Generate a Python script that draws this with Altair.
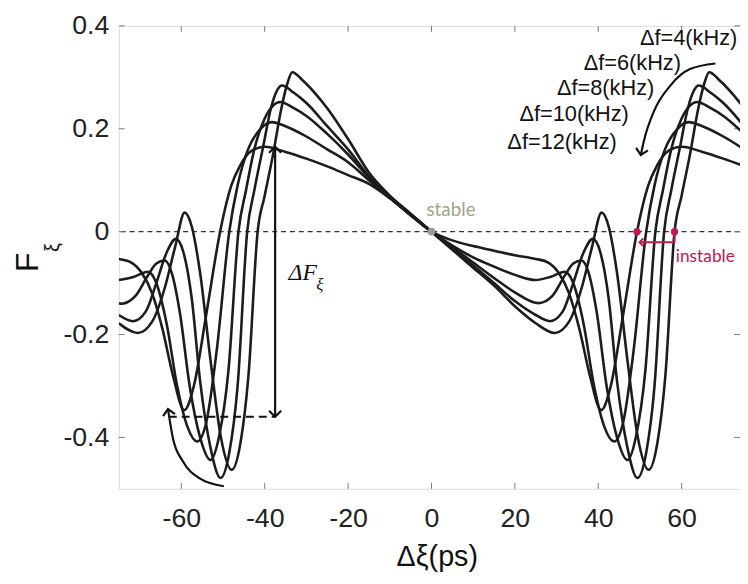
import altair as alt
import pandas as pd

XMIN, XMAX = -75, 74
YMIN, YMAX = -0.5, 0.4
W, H = 628, 468

series_names = ["Δf=4(kHz)", "Δf=6(kHz)", "Δf=8(kHz)", "Δf=10(kHz)", "Δf=12(kHz)"]

curve_4 = [(-75, -0.178), (-70.4, -0.197), (-67, -0.175), (-64, -0.11), (-61.5, -0.03), (-59.2, 0.037),
           (-57.5, 0.01), (-55.5, -0.08), (-53, -0.25), (-50.5, -0.40), (-47.9, -0.463), (-45.8, -0.41),
           (-43.9, -0.28), (-41.7, 0.0), (-40, 0.07), (-38, 0.15), (-36, 0.24), (-34.5, 0.29), (-33.4, 0.31),
           (-31, 0.295), (-28, 0.27), (-25, 0.24), (-20, 0.18), (-15, 0.115), (-10, 0.07), (-5, 0.035), (0, 0.0),
           (5, -0.035), (10, -0.07), (15, -0.105), (20, -0.145), (25, -0.178), (29.6, -0.197), (33, -0.175),
           (36, -0.11), (38.5, -0.03), (40.8, 0.037), (42.5, 0.01), (44.5, -0.08), (47, -0.25), (49.5, -0.40),
           (52.1, -0.463), (54.2, -0.41), (56.1, -0.28), (58.3, 0.0), (60, 0.07), (62, 0.15), (64, 0.24),
           (65.5, 0.29), (66.6, 0.31), (69, 0.295), (72, 0.27), (75, 0.24)]

curve_6 = [(-75, -0.162), (-71.6, -0.174), (-68.5, -0.155), (-66, -0.10), (-63.5, -0.04), (-61.3, -0.014),
           (-59.5, -0.04), (-57.5, -0.13), (-55.5, -0.29), (-53, -0.42), (-50.6, -0.479), (-48.5, -0.43),
           (-46.5, -0.30), (-44.2, 0.0), (-42.5, 0.08), (-40.5, 0.16), (-38.5, 0.24), (-37, 0.275), (-35.9, 0.284),
           (-33, 0.27), (-30, 0.25), (-25, 0.205), (-20, 0.16), (-15, 0.108), (-10, 0.068), (-5, 0.034), (0, 0.0),
           (5, -0.033), (10, -0.066), (15, -0.10), (20, -0.135), (25, -0.162), (28.4, -0.174), (31.5, -0.155),
           (34, -0.10), (36.5, -0.04), (38.7, -0.014), (40.5, -0.04), (42.5, -0.13), (44.5, -0.29), (47, -0.42),
           (49.4, -0.479), (51.5, -0.43), (53.5, -0.30), (55.8, 0.0), (57.5, 0.08), (59.5, 0.16), (61.5, 0.24),
           (63, 0.275), (64.1, 0.284), (67, 0.27), (70, 0.25), (75, 0.205)]

curve_8 = [(-75, -0.139), (-74.3, -0.14), (-71, -0.125), (-68, -0.085), (-66, -0.062), (-64, -0.056),
           (-62.3, -0.08), (-60.3, -0.16), (-58, -0.30), (-55.5, -0.40), (-53, -0.444), (-51, -0.40),
           (-48.7, -0.27), (-46.3, 0.0), (-44.5, 0.08), (-42.5, 0.16), (-40, 0.22), (-38, 0.245), (-36.3, 0.252),
           (-33, 0.24), (-30, 0.225), (-25, 0.19), (-20, 0.15), (-15, 0.105), (-10, 0.067), (-5, 0.033), (0, 0.0),
           (5, -0.03), (10, -0.06), (15, -0.09), (20, -0.118), (25.7, -0.139), (29, -0.125), (32, -0.085),
           (34, -0.062), (36, -0.056), (37.7, -0.08), (39.7, -0.16), (42, -0.30), (44.5, -0.40), (47, -0.444),
           (49, -0.40), (51.3, -0.27), (53.7, 0.0), (55.5, 0.08), (57.5, 0.16), (60, 0.22), (62, 0.245),
           (63.7, 0.252), (67, 0.24), (70, 0.225), (75, 0.19)]

curve_10 = [(-75, -0.094), (-71.5, -0.088), (-68, -0.078), (-66, -0.10), (-63.5, -0.18), (-61, -0.30),
            (-58.5, -0.38), (-56.2, -0.408), (-54, -0.37), (-51.5, -0.23), (-48.5, 0.0), (-46.5, 0.09),
            (-44, 0.16), (-41, 0.20), (-38.3, 0.213), (-35, 0.205), (-30, 0.185), (-25, 0.16), (-20, 0.135),
            (-15, 0.10), (-10, 0.066), (-5, 0.032), (0, 0.0), (5, -0.027), (10, -0.05), (15, -0.068),
            (20, -0.084), (25, -0.094), (28.5, -0.088), (32, -0.078), (34, -0.10), (36.5, -0.18), (39, -0.30),
            (41.5, -0.38), (43.8, -0.408), (46, -0.37), (48.5, -0.23), (51.5, 0.0), (53.5, 0.09), (56, 0.16),
            (59, 0.20), (61.7, 0.213), (65, 0.205), (70, 0.185), (75, 0.16)]

curve_12 = [(-75, -0.053), (-72, -0.06), (-69.5, -0.08), (-67, -0.12), (-64.5, -0.19), (-62, -0.28),
            (-59.3, -0.347), (-57, -0.30), (-54, -0.16), (-50.7, 0.0), (-48, 0.09), (-46, 0.127), (-43, 0.158),
            (-40, 0.165), (-35, 0.155), (-30, 0.142), (-25, 0.127), (-20, 0.11), (-15, 0.093), (-10, 0.065),
            (-5, 0.032), (0, 0.0), (5, -0.017), (10, -0.028), (15, -0.037), (20, -0.046), (25, -0.053),
            (28, -0.06), (30.5, -0.08), (33, -0.12), (35.5, -0.19), (38, -0.28), (40.7, -0.347), (43, -0.30),
            (46, -0.16), (49.3, 0.0), (52, 0.09), (54, 0.127), (57, 0.158), (60, 0.165), (65, 0.155),
            (70, 0.142), (75, 0.127)]

x_ticks = [-60, -40, -20, 0, 20, 40, 60]
y_ticks = [-0.4, -0.2, 0.0, 0.2, 0.4]

# annotations
label_x = [50, 36.5, 30.1, 21.1, 18.2]
label_y = [0.377, 0.3275, 0.279, 0.229, 0.175]

arrow_low = [(-49.8, -0.495), (-55.7, -0.479), (-59.6, -0.447), (-62.0, -0.402), (-63.2, -0.345)]
arrow_high = [(68.1, 0.327), (62.0, 0.316), (57.3, 0.284), (53.3, 0.233), (50.9, 0.175), (50.2, 0.149)]
dF_x = -37.5
dF_top, dF_bottom = 0.165, -0.36
dF_dash_x0 = -63.0
stable_pt = (0.0, 0.0)
instable_x = [49.3, 58.3]
instable_arrow_y = -0.0206

rows = []
for name, pts in zip(series_names, [curve_4, curve_6, curve_8, curve_10, curve_12]):
    for i, (x, y) in enumerate(pts):
        rows.append({"x": x, "y": y, "series": name, "i": i})
curves = pd.DataFrame(rows)

xs = alt.Scale(domain=[XMIN, XMAX], nice=False, zero=False)
ys = alt.Scale(domain=[YMIN, YMAX], nice=False, zero=False)
x_axis = alt.Axis(values=x_ticks, grid=False, domain=False, ticks=False, tickSize=0,
                  labelExpr="(datum.value < 0 ? '-' : '') + format(abs(datum.value), 'd')",
                  labelFontSize=27, labelFont="Liberation Sans", labelColor="#222", labelPadding=17)
y_axis = alt.Axis(values=y_ticks, grid=False, domain=False, ticks=False, tickSize=0,
                  labelExpr="datum.value == 0 ? '0' : (datum.value < 0 ? '-' : '') + format(abs(datum.value), '.1f')",
                  labelFontSize=27, labelFont="Liberation Sans", labelColor="#222", labelPadding=10)


def X(f):
    return alt.X(f, type="quantitative", scale=xs, axis=x_axis, title=None)


def Y(f):
    return alt.Y(f, type="quantitative", scale=ys, axis=y_axis, title=None)


lines = alt.Chart(curves).mark_line(interpolate="monotone", color="#1c1c1c", strokeWidth=2.6, clip=True).encode(
    x=X("x"), y=Y("y"), detail="series:N", order="i:Q")

zero = alt.Chart(pd.DataFrame({"y": [0.0]})).mark_rule(strokeDash=[5, 4], color="#333", strokeWidth=1.2).encode(
    y=Y("y"))

# ticks (inward)
xt = pd.DataFrame({"x": x_ticks})
yt = pd.DataFrame({"y": y_ticks})
tick_style = dict(color="#777", strokeWidth=1)
ticks = [
    alt.Chart(xt).mark_rule(**tick_style).encode(x=X("x"), y=alt.value(H), y2=alt.value(H - 6)),
    alt.Chart(xt).mark_rule(**tick_style).encode(x=X("x"), y=alt.value(0), y2=alt.value(6)),
    alt.Chart(yt).mark_rule(**tick_style).encode(y=Y("y"), x=alt.value(0), x2=alt.value(6)),
    alt.Chart(yt).mark_rule(**tick_style).encode(y=Y("y"), x=alt.value(W - 6), x2=alt.value(W)),
]

labels = alt.Chart(pd.DataFrame({"x": label_x, "y": label_y, "t": series_names})).mark_text(
    align="left", baseline="middle", font="Liberation Sans", fontSize=22, color="#111").encode(
    x=X("x"), y=Y("y"), text="t:N")

arr_low = alt.Chart(pd.DataFrame(arrow_low, columns=["x", "y"])).mark_line(
    interpolate="monotone", color="#111", strokeWidth=2.2).encode(x=X("x"), y=Y("y"))
arr_high = alt.Chart(pd.DataFrame(arrow_high, columns=["x", "y"])).mark_line(
    interpolate="monotone", color="#111", strokeWidth=2.2).encode(x=X("x"), y=Y("y"))

chevron = "M -1 1 L 0 0 L 1 1"
heads = pd.DataFrame({
    "x": [arrow_low[-1][0], arrow_high[-1][0], dF_x, dF_x],
    "y": [arrow_low[-1][1], arrow_high[-1][1], dF_top, dF_bottom],
    "a": [350, 192, 0, 180],
})
head_marks = alt.Chart(heads).mark_point(shape=chevron, filled=False, strokeWidth=2.2, size=150,
                                         color="#111", opacity=1).encode(
    x=X("x"), y=Y("y"), angle=alt.Angle("a:Q", scale=None))

dF_rule = alt.Chart(pd.DataFrame({"x": [dF_x], "y": [dF_top], "y2": [dF_bottom]})).mark_rule(
    color="#111", strokeWidth=2.2).encode(x=X("x"), y=Y("y"), y2="y2:Q")
dF_dash = alt.Chart(pd.DataFrame({"x": [dF_dash_x0], "x2": [dF_x], "y": [dF_bottom]})).mark_rule(
    color="#111", strokeWidth=2, strokeDash=[8, 5]).encode(x=X("x"), x2="x2:Q", y=Y("y"))

dF_text = alt.Chart(pd.DataFrame({"x": [-34.3], "y": [-0.081], "t": ["ΔF"]})).mark_text(
    align="left", baseline="middle", font="Liberation Serif", fontStyle="italic", fontSize=24, color="#111").encode(
    x=X("x"), y=Y("y"), text="t:N")
dF_sub = alt.Chart(pd.DataFrame({"x": [-26.8], "y": [-0.104], "t": ["ξ"]})).mark_text(
    align="center", baseline="middle", font="Liberation Serif", fontStyle="italic", fontSize=17, color="#111").encode(
    x=X("x"), y=Y("y"), text="t:N")

stable_dot = alt.Chart(pd.DataFrame({"x": [stable_pt[0]], "y": [stable_pt[1]]})).mark_point(
    filled=True, size=60, color="#999", opacity=1).encode(x=X("x"), y=Y("y"))
stable_txt = alt.Chart(pd.DataFrame({"x": [-1.2], "y": [0.042], "t": ["stable"]})).mark_text(
    align="left", baseline="middle", font="Lato", fontSize=19, color="#a3a38a").encode(
    x=X("x"), y=Y("y"), text="t:N")

red = "#c0184f"
inst_dots = alt.Chart(pd.DataFrame({"x": instable_x, "y": [0.0, 0.0]})).mark_point(
    filled=True, size=55, color=red, opacity=1).encode(x=X("x"), y=Y("y"))
inst_vert = alt.Chart(pd.DataFrame({"x": [instable_x[1]], "y": [0.0], "y2": [instable_arrow_y]})).mark_rule(
    color=red, strokeWidth=2).encode(x=X("x"), y=Y("y"), y2="y2:Q")
inst_line = alt.Chart(pd.DataFrame({"x": [instable_x[1]], "x2": [instable_x[0] + 0.6], "y": [instable_arrow_y]})).mark_rule(
    color=red, strokeWidth=2).encode(x=X("x"), x2="x2:Q", y=Y("y"))
inst_head = alt.Chart(pd.DataFrame({"x": [instable_x[0] + 0.6], "y": [instable_arrow_y], "a": [270]})).mark_point(
    shape=chevron, filled=False, strokeWidth=2, size=60, color=red, opacity=1).encode(
    x=X("x"), y=Y("y"), angle=alt.Angle("a:Q", scale=None))
inst_txt = alt.Chart(pd.DataFrame({"x": [58.6], "y": [-0.05], "t": ["instable"]})).mark_text(
    align="left", baseline="middle", font="Lato", fontSize=17.5, color=red).encode(
    x=X("x"), y=Y("y"), text="t:N")

# axis titles as text
title_df = pd.DataFrame({"t": ["x"]})
x_title = alt.Chart(title_df).mark_text(text="Δξ(ps)", font="Liberation Sans", fontSize=29, color="#111",
                                        align="center", baseline="alphabetic").encode(
    x=alt.value(322), y=alt.value(H + 78))
y_title_F = alt.Chart(title_df).mark_text(text="F", font="Liberation Sans", fontSize=32, color="#111",
                                          align="center", baseline="middle", angle=270).encode(
    x=alt.value(-92), y=alt.value(239))
y_title_xi = alt.Chart(title_df).mark_text(text="ξ", font="Liberation Sans", fontSize=20, color="#111",
                                           align="center", baseline="middle", angle=270).encode(
    x=alt.value(-66), y=alt.value(224))

chart = alt.layer(
    zero, *ticks, lines, dF_rule, dF_dash, arr_low, arr_high, head_marks, labels, dF_text, dF_sub,
    stable_dot, stable_txt, inst_vert, inst_line, inst_head, inst_dots, inst_txt, x_title, y_title_F, y_title_xi
).properties(
    width=W, height=H,
    autosize=alt.AutoSizeParams(type="none"),
    padding={"left": 112, "top": 15, "right": 0, "bottom": 85},
).configure_view(stroke="#777", strokeWidth=1).configure(background="white")

chart.save("out.html", embed_options={"renderer": "svg", "actions": False})
